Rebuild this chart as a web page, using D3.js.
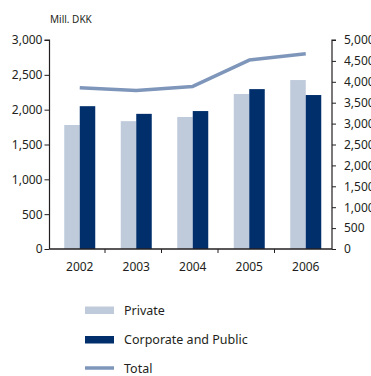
<!DOCTYPE html>
<html>
<head>
<meta charset="utf-8">
<script src="https://cdn.jsdelivr.net/npm/d3@7"></script>
<style>
  html, body { margin: 0; padding: 0; background: #fff; }
  svg { display: block; font-family: "Noto Sans", "Open Sans", sans-serif; }
</style>
</head>
<body>
<svg id="chart" width="371" height="376"></svg>
<script>
// Lending by customer segment, Mill. DKK
const years = ["2002", "2003", "2004", "2005", "2006"];
const privateVals = [1780, 1835, 1895, 2225, 2425];
const corporateVals = [2050, 1940, 1980, 2295, 2210];
const totalVals = [3860, 3790, 3890, 4520, 4670];
const leftTicks = [0, 500, 1000, 1500, 2000, 2500, 3000];
const rightTicks = [0, 500, 1000, 1500, 2000, 2500, 3000, 3500, 4000, 4500, 5000];

const colPrivate = "#bfcadb";
const colCorporate = "#002f6c";
const colTotal = "#7f96bb";
const ink = "#231f20";

const svg = d3.select("#chart");
const fmt = d3.format(",");

const plotLeft = 49.5, plotRight = 332, plotTop = 40, plotBottom = 249;

const x = d3.scaleBand().domain(years).range([plotLeft, plotRight]);
const yL = d3.scaleLinear().domain([0, 3000]).range([plotBottom, plotTop]);
const yR = d3.scaleLinear().domain([0, 5000]).range([plotBottom, plotTop]);

// bar pair sits slightly right of band centre
const pairShift = 2;
const barW = 15.5;
const centre = yr => x(yr) + x.bandwidth() / 2 + pairShift;

const g = svg.append("g");

// bars
years.forEach((yr, i) => {
  const cx = centre(yr);
  g.append("rect")
    .attr("x", cx - barW).attr("width", barW)
    .attr("y", yL(privateVals[i])).attr("height", plotBottom - yL(privateVals[i]))
    .attr("fill", colPrivate);
  g.append("rect")
    .attr("x", cx).attr("width", barW)
    .attr("y", yL(corporateVals[i])).attr("height", plotBottom - yL(corporateVals[i]))
    .attr("fill", colCorporate);
});

// total line (right axis)
const line = d3.line()
  .x((d, i) => centre(years[i]))
  .y(d => yR(d));
g.append("path")
  .datum(totalVals)
  .attr("d", line)
  .attr("fill", "none")
  .attr("stroke", colTotal)
  .attr("stroke-width", 3.5)
  .attr("stroke-linejoin", "round");

// left axis
const axL = d3.axisLeft(yL).tickValues(leftTicks).tickFormat(fmt).tickSize(5).tickPadding(2);
const gL = svg.append("g").attr("transform", `translate(${plotLeft},0)`).call(axL);
// right axis
const axR = d3.axisRight(yR).tickValues(rightTicks).tickFormat(fmt).tickSize(4).tickPadding(8);
const gR = svg.append("g").attr("transform", `translate(${plotRight},0)`).call(axR);

[gL, gR].forEach(a => {
  a.select(".domain").attr("stroke", ink).attr("stroke-width", 1.2);
  a.selectAll(".tick line").attr("stroke", ink).attr("stroke-width", 1);
  a.selectAll(".tick text").attr("fill", ink).attr("font-size", 12).attr("font-family", "Noto Sans");
});
gL.select(".domain").attr("d", `M-5,${plotTop}H0V${plotBottom}`);
gR.select(".domain").attr("d", `M4,${plotTop}H0V${plotBottom}`);

// x axis with ticks between categories
const gx = svg.append("g");
gx.append("line")
  .attr("x1", plotLeft).attr("x2", plotRight)
  .attr("y1", plotBottom).attr("y2", plotBottom)
  .attr("stroke", ink).attr("stroke-width", 1.5);
years.slice(1).forEach(yr => {
  gx.append("line")
    .attr("x1", x(yr) - 1).attr("x2", x(yr) - 1)
    .attr("y1", plotBottom).attr("y2", plotBottom + 4)
    .attr("stroke", ink).attr("stroke-width", 1);
});
years.forEach(yr => {
  gx.append("text")
    .attr("x", centre(yr))
    .attr("y", 271)
    .attr("text-anchor", "middle")
    .attr("font-size", 12)
    .attr("fill", ink)
    .text(yr);
});

// unit label
svg.append("text")
  .attr("x", 50).attr("y", 23)
  .attr("font-size", 10)
  .attr("fill", ink)
  .text("Mill. DKK");

// legend
const legend = [
  { label: "Private", color: colPrivate, type: "bar", y: 310 },
  { label: "Corporate and Public", color: colCorporate, type: "bar", y: 339.5 },
  { label: "Total", color: colTotal, type: "line", y: 368 }
];
legend.forEach(d => {
  if (d.type === "bar") {
    svg.append("rect").attr("x", 85).attr("y", d.y - 3.5).attr("width", 29).attr("height", 7.5).attr("fill", d.color);
  } else {
    svg.append("line").attr("x1", 85).attr("x2", 114).attr("y1", d.y).attr("y2", d.y)
      .attr("stroke", d.color).attr("stroke-width", 3.5);
  }
  svg.append("text")
    .attr("x", 124).attr("y", d.y + 4.5)
    .attr("font-size", 12.5)
    .attr("fill", ink)
    .text(d.label);
});
</script>
</body>
</html>
